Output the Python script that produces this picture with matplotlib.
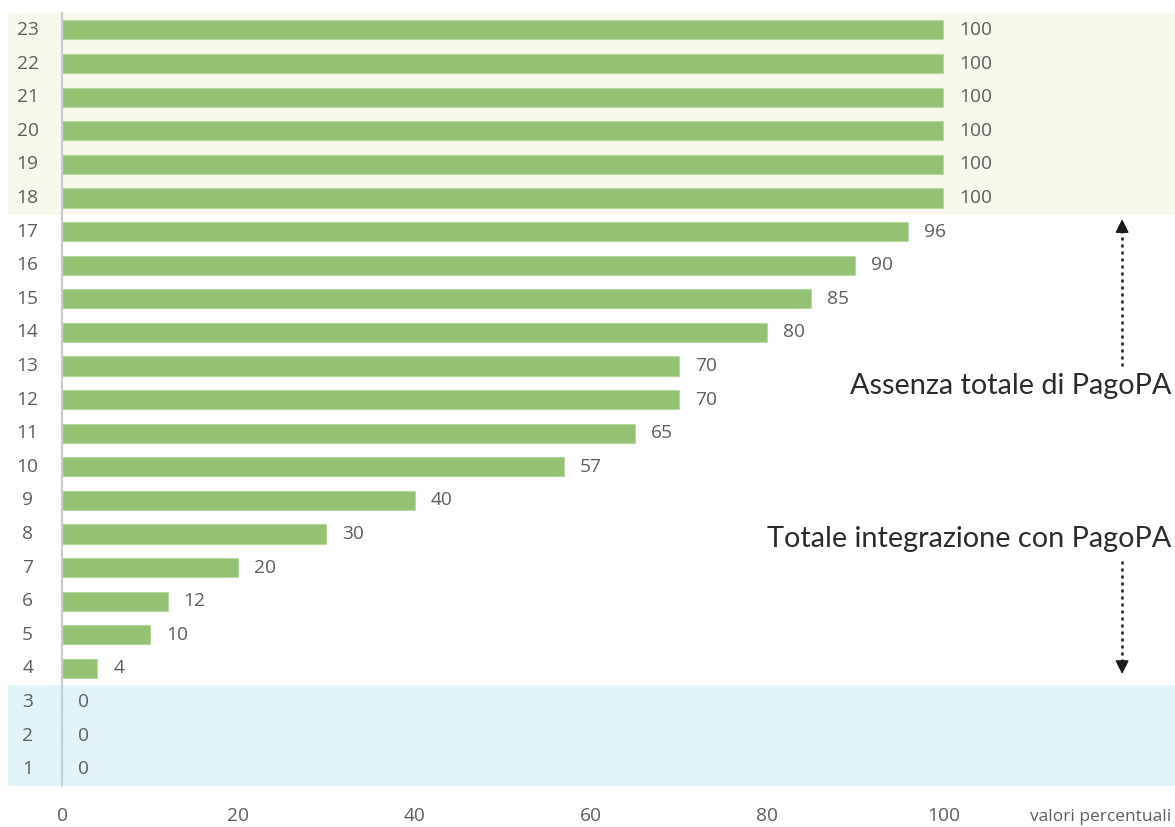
import matplotlib

matplotlib.use("Agg")
import matplotlib.pyplot as plt
from matplotlib.patches import Rectangle

# data -----------------------------------------------------------------------
rows = list(range(1, 24))
values = [0, 0, 0, 4, 10, 12, 20, 30, 40, 57, 65, 70, 70, 80, 85, 90, 96,
          100, 100, 100, 100, 100, 100]
x_ticks = [0, 20, 40, 60, 80, 100]
x_label = "valori percentuali"
note_top = "Assenza totale di PagoPA"
note_bottom = "Totale integrazione con PagoPA"

# style ----------------------------------------------------------------------
BAR = "#94c274"
BAR_EDGE = "#b7d9a0"
BAND_TOP = "#f8f9ec"
BAND_LOW = "#e3f4f9"
AXIS = "#c5ced2"
TEXT = "#5a5f61"
INK = "#1a1a1a"
NUM_FONT = ["Open Sans", "DejaVu Sans"]
NOTE_FONT = ["Lato", "DejaVu Sans"]
NUM_SIZE = 13.8

plt.rcParams["font.family"] = NUM_FONT

W, H, DPI = 11.75, 8.27, 100
fig = plt.figure(figsize=(W, H), dpi=DPI)
# axes from the left edge to the right edge, bottom at the end of the bands
ax = fig.add_axes([0.0, 41 / 827, 1.0, 1 - 41 / 827])
ax.set_xlim(-7.04, 126.3)
ax.set_ylim(0.5, 23.89)
for s in ax.spines.values():
    s.set_visible(False)
ax.set_yticks([])
ax.set_xticks(x_ticks)
ax.set_xticklabels([str(t) for t in x_ticks], color=TEXT, fontsize=NUM_SIZE)
ax.tick_params(axis="x", length=0, pad=15)

# background bands for the two groups
ax.add_patch(Rectangle((-6.1, 17.5), 140, 6.0, color=BAND_TOP, lw=0, zorder=0))
ax.add_patch(Rectangle((-6.1, 0.5), 140, 3.0, color=BAND_LOW, lw=0, zorder=0))

ax.barh(rows, values, height=0.57, color=BAR, edgecolor=BAR_EDGE, lw=0.8, zorder=2)
ax.plot([0, 0], [0.5, 23.5], color=AXIS, lw=1.6, zorder=3)

for r, v in zip(rows, values):
    ax.text(-3.9, r, str(r), ha="center", va="center", color=TEXT, fontsize=NUM_SIZE)
    ax.text(v + 1.8, r, str(v), ha="left", va="center", color=TEXT, fontsize=NUM_SIZE)

ax.text(125.9, -0.43, x_label, ha="right", va="center", color=TEXT, fontsize=12.5,
        clip_on=False)

# annotations: dotted shaft plus a solid arrow head
ax.text(125.9, 12.4, note_top, ha="right", va="center", color="#2b2b2b",
        fontsize=20.8, family=NOTE_FONT)
ax.text(125.9, 7.85, note_bottom, ha="right", va="center", color="#2b2b2b",
        fontsize=20.8, family=NOTE_FONT)
ax_x = 120.3
dots = dict(color=INK, lw=1.8, linestyle=(0, (1.2, 1.6)), zorder=4)
head = dict(arrowstyle="-|>,head_length=0.8,head_width=0.4", color=INK, lw=1.2)
ax.plot([ax_x, ax_x], [13.0, 17.0], **dots)
ax.annotate("", xy=(ax_x, 17.45), xytext=(ax_x, 17.0), arrowprops=head)
ax.plot([ax_x, ax_x], [7.2, 4.2], **dots)
ax.annotate("", xy=(ax_x, 3.75), xytext=(ax_x, 4.2), arrowprops=head)

fig.savefig("out.png", dpi=DPI, facecolor="white")
